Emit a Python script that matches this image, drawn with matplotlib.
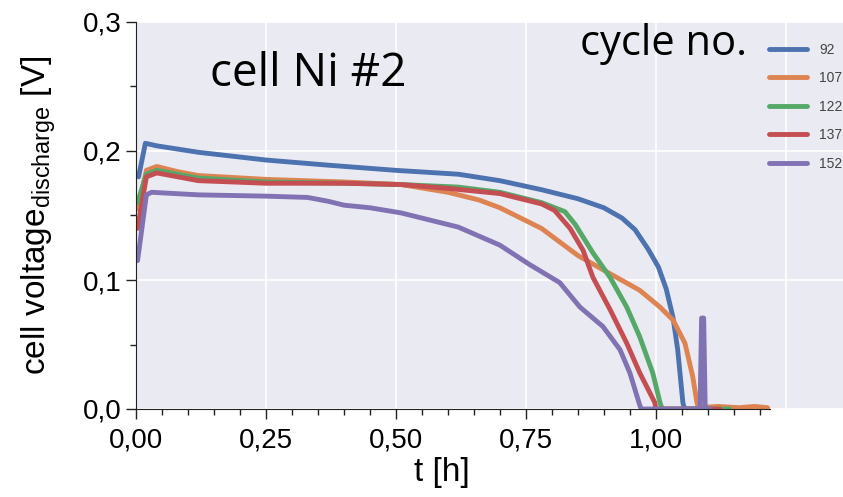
import matplotlib
matplotlib.use("Agg")
import matplotlib.pyplot as plt
from matplotlib.ticker import FuncFormatter, MultipleLocator, FixedLocator

plt.rcParams['font.family'] = ['Liberation Sans', 'DejaVu Sans']
plt.rcParams['mathtext.fontset'] = 'custom'
plt.rcParams['mathtext.rm'] = 'Liberation Sans'

cycles = ['92', '107', '122', '137', '152']
colors = ['#4C72B0', '#DD8452', '#55A868', '#C44E52', '#8172B3']

t_92 = [0.005, 0.018, 0.04, 0.12, 0.25, 0.37, 0.50, 0.62, 0.70, 0.78, 0.85,
        0.90, 0.935, 0.96, 0.985, 1.005, 1.02, 1.033, 1.042, 1.052, 1.055, 1.10]
v_92 = [0.180, 0.206, 0.204, 0.199, 0.193, 0.189, 0.185, 0.182, 0.177, 0.170, 0.163,
        0.156, 0.148, 0.139, 0.124, 0.110, 0.093, 0.071, 0.046, 0.005, 0.0, 0.0]

t_107 = [0.003, 0.02, 0.04, 0.08, 0.12, 0.25, 0.40, 0.51, 0.60, 0.66, 0.70, 0.78, 0.85,
         0.898, 0.969, 1.008, 1.033, 1.056, 1.071, 1.079, 1.082, 1.12, 1.16, 1.19, 1.215]
v_107 = [0.155, 0.185, 0.188, 0.184, 0.181, 0.178, 0.176, 0.174, 0.168, 0.162, 0.156, 0.140, 0.119,
         0.108, 0.092, 0.079, 0.069, 0.051, 0.025, 0.005, 0.001, 0.002, 0.001, 0.002, 0.001]

t_122 = [0.003, 0.02, 0.04, 0.12, 0.25, 0.40, 0.51, 0.62, 0.70, 0.78, 0.825, 0.845,
         0.879, 0.912, 0.944, 0.969, 0.994, 1.008, 1.012, 1.142]
v_122 = [0.160, 0.182, 0.185, 0.179, 0.176, 0.175, 0.174, 0.172, 0.168, 0.160, 0.153, 0.143,
         0.121, 0.102, 0.079, 0.056, 0.028, 0.005, 0.0, 0.0]

t_137 = [0.003, 0.02, 0.04, 0.12, 0.25, 0.40, 0.51, 0.60, 0.70, 0.78, 0.805, 0.835,
         0.860, 0.879, 0.912, 0.944, 0.969, 0.998, 1.0, 1.123]
v_137 = [0.140, 0.180, 0.183, 0.177, 0.175, 0.175, 0.174, 0.171, 0.167, 0.159, 0.154, 0.140,
         0.123, 0.102, 0.077, 0.051, 0.028, 0.005, 0.0, 0.0]

t_152 = [0.003, 0.02, 0.03, 0.12, 0.25, 0.33, 0.37, 0.40, 0.45, 0.51, 0.62, 0.70, 0.757, 0.815,
         0.854, 0.898, 0.931, 0.950, 0.969, 0.972, 1.085, 1.088, 1.092, 1.095, 1.105]
v_152 = [0.115, 0.166, 0.168, 0.166, 0.165, 0.164, 0.161, 0.158, 0.156, 0.152, 0.141, 0.127, 0.112, 0.098,
         0.079, 0.064, 0.046, 0.028, 0.003, 0.0, 0.0, 0.0705, 0.0705, 0.0, 0.0]

series_t = [t_92, t_107, t_122, t_137, t_152]
series_v = [v_92, v_107, v_122, v_137, v_152]

fig = plt.figure(figsize=(8.43, 4.97), dpi=100)
ax = fig.add_axes([136 / 843, 1 - 409 / 497, 1 - 136 / 843, (409 - 22) / 497])
ax.set_facecolor('#EAEAF2')

for t, v, c, lab in zip(series_t, series_v, colors, cycles):
    ax.plot(t, v, color=c, lw=3.5, label=lab, solid_capstyle='round', solid_joinstyle='round')

ax.set_xlim(0, 1.36)
ax.set_ylim(0, 0.3)

ax.xaxis.set_major_locator(FixedLocator([0, 0.25, 0.5, 0.75, 1.0]))
ax.xaxis.set_minor_locator(FixedLocator([i * 0.05 for i in range(25)]))
ax.yaxis.set_major_locator(MultipleLocator(0.1))
ax.yaxis.set_minor_locator(MultipleLocator(0.05))
ax.xaxis.set_major_formatter(FuncFormatter(lambda x, p: ('%.2f' % x).replace('.', ',')))
ax.yaxis.set_major_formatter(FuncFormatter(lambda x, p: ('%.1f' % x).replace('.', ',')))

# white grid, plus the 1,25 line that has no tick
ax.grid(True, which='major', color='white', lw=1.2)
ax.axvline(1.25, color='white', lw=1.2, zorder=0.5)
ax.set_axisbelow(True)

for s in ['top', 'right']:
    ax.spines[s].set_visible(False)
ax.spines['bottom'].set_bounds(0, 1.22)
ax.spines['left'].set_color('#222222')
ax.spines['bottom'].set_color('#222222')
ax.tick_params(which='major', direction='out', length=7, width=1, labelsize=20, color='#222222')
ax.tick_params(axis='x', which='major', pad=6)
ax.tick_params(which='minor', direction='out', length=4, width=1, color='#222222')

ax.set_xlabel('t [h]', fontsize=24, labelpad=3)
ax.xaxis.label.set_x((442 - 136) / 707)
ax.set_ylabel('cell voltage$_{\\mathrm{discharge}}$ [V]', fontsize=24, labelpad=18)

ax.legend(loc='upper left', bbox_to_anchor=(0.896, 0.947), frameon=False,
          borderaxespad=0, borderpad=0, handlelength=2.7, handletextpad=0.9,
          labelspacing=1.05, fontsize=10, labelcolor='#444444')

fig.text(580 / 843, 1 - 44 / 497, 'cycle no.', fontsize=30, family='Open Sans', va='center')
fig.text(210 / 843, 1 - 74 / 497, 'cell Ni #2', fontsize=33, family='Open Sans', va='center')

fig.savefig('out.png', dpi=100)
